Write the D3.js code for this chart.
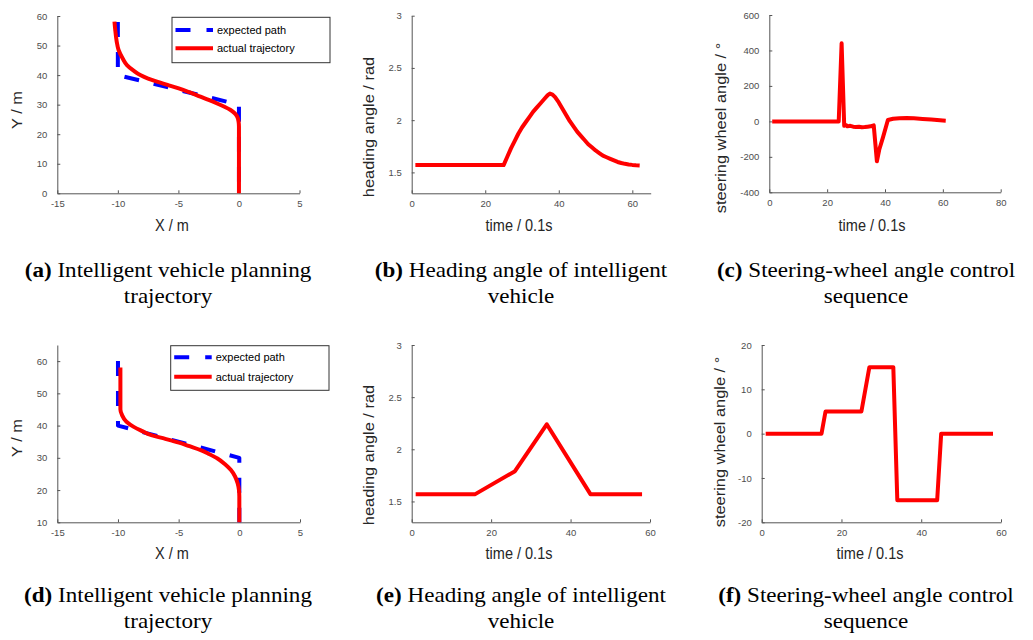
<!DOCTYPE html>
<html>
<head>
<meta charset="utf-8">
<script src="https://cdn.jsdelivr.net/npm/d3@7"></script>
<style>
  body { margin: 0; background: #fff; }
  svg { display: block; }
</style>
</head>
<body>
<div id="chart"></div>
<script>
// ---- data ----
// (a) path / trajectory, scenario 1
var expA_x = [-10, -10, 0, 0];
var expA_y = [58, 40, 30, 0];
var actA_x = [-10.28, -10.22, -10.1, -9.94, -9.6, -9.25, -8.7, -8.15, -7.5, -6.77, -5.9, -4.97, -4.1, -3.18, -2.5, -1.8, -1.2, -0.69, -0.35, -0.14, -0.03, 0, 0];
var actA_y = [58.1, 55.5, 51.5, 48.5, 45.6, 43.4, 41.5, 40, 38.8, 37.8, 36.7, 35.5, 34.2, 32.7, 31.6, 30.4, 29.3, 28.2, 27.1, 25.9, 24.2, 22.6, 0];

// (b) heading angle, scenario 1
var headB_t = [1, 25, 26, 27, 28, 29, 30, 31, 32, 33, 34, 35, 36, 37, 37.6, 38.3, 39, 40, 41, 42, 43, 44, 45, 46, 47, 48, 49, 50, 51, 52, 53, 54, 55, 56, 57, 58, 59, 60, 61, 62];
var headB_v = [1.57, 1.57, 1.65, 1.73, 1.80, 1.87, 1.93, 1.98, 2.03, 2.08, 2.12, 2.16, 2.20, 2.24, 2.255, 2.245, 2.22, 2.17, 2.11, 2.05, 1.99, 1.94, 1.89, 1.85, 1.81, 1.77, 1.74, 1.71, 1.685, 1.66, 1.645, 1.63, 1.615, 1.60, 1.59, 1.582, 1.576, 1.572, 1.569, 1.567];

// (c) steering wheel angle, scenario 1
var steerC_t = [1, 24, 25, 25.9, 26.5, 27, 28, 29, 30, 31, 32, 33, 34, 35, 36.1, 37.2, 38, 39.3, 41, 42.8, 45, 47.5, 50, 53, 56, 59, 61];
var steerC_v = [0, 0, 440, -25, -20, -28, -25, -30, -32, -30, -33, -32, -30, -28, -22, -225, -160, -90, 8, 15, 18, 19, 17, 14, 10, 6, 4];

// (d) path / trajectory, scenario 2
var expD_x = [-10, -10, 0, 0];
var expD_y = [60, 40, 30, 10];
var actD_x = [-9.8, -9.8, -9.67, -9.3, -8.7, -8.0, -7.3, -6.1, -4.97, -4.1, -3.18, -2.5, -1.8, -1.2, -0.69, -0.35, -0.14, -0.03, 0, 0];
var actD_y = [58, 45, 43.3, 41.2, 39.6, 38.3, 37.1, 35.9, 34.7, 33.6, 32.4, 31.2, 29.8, 28.1, 26.2, 24.2, 22.1, 20, 18, 10];

// (e) heading angle, scenario 2
var headE_t = [1, 16, 26, 34, 45, 58];
var headE_v = [1.57, 1.57, 1.79, 2.24, 1.57, 1.57];

// (f) steering wheel angle, scenario 2
var steerF_t = [1, 15, 16, 25, 27, 33, 34, 44, 45, 58];
var steerF_v = [0, 0, 5, 5, 15, 15, -15, -15, 0, 0];

// ticks
var xyTicksX = [-15, -10, -5, 0, 5];
var ticksA_y = [0, 10, 20, 30, 40, 50, 60];
var ticksD_y = [10, 20, 30, 40, 50, 60];
var headTicks = [1.5, 2, 2.5, 3];
var timeTicks60 = [0, 20, 40, 60];
var timeTicks80 = [0, 20, 40, 60, 80];
var steerC_ticks = [-400, -200, 0, 200, 400, 600];
var steerF_ticks = [-20, -10, 0, 10, 20];

var legendNames = ["expected path", "actual trajectory"];

var captions = [
  ["(a)", " Intelligent vehicle planning", "trajectory"],
  ["(b)", " Heading angle of intelligent", "vehicle"],
  ["(c)", " Steering-wheel angle control", "sequence"],
  ["(d)", " Intelligent vehicle planning", "trajectory"],
  ["(e)", " Heading angle of intelligent", "vehicle"],
  ["(f)", " Steering-wheel angle control", "sequence"]
];

var RED = "#ff0000", BLUE = "#0000ff";
var sans = "'Liberation Sans', Arial, sans-serif";
var serif = "'Liberation Serif', 'Times New Roman', serif";
// the source figure was squeezed a little horizontally; axis titles are stretched to match
var VSTRETCH = 1.13;

var svg = d3.select("#chart").append("svg")
  .attr("width", 1033)
  .attr("height", 640);

function zip(a, b) { return a.map(function (d, i) { return [d, b[i]]; }); }

function panel(p) {
  var x = d3.scaleLinear().domain(p.xDomain).range([p.left, p.right]);
  var y = d3.scaleLinear().domain(p.yDomain).range([p.bottom, p.top]);
  var g = svg.append("g");

  var fmt = function (d) { return String(d); };

  var ax = g.append("g")
    .attr("transform", "translate(0," + p.bottom + ")")
    .call(d3.axisBottom(x).tickValues(p.xTicks).tickSize(-3).tickSizeOuter(0).tickPadding(7).tickFormat(fmt));
  var ay = g.append("g")
    .attr("transform", "translate(" + p.left + ",0)")
    .call(d3.axisLeft(y).tickValues(p.yTicks).tickSize(-3).tickSizeOuter(0).tickPadding(10).tickFormat(fmt));

  [ax, ay].forEach(function (a) {
    a.select(".domain").attr("stroke", "#555").attr("stroke-width", 1);
    a.selectAll(".tick line").attr("stroke", "#555");
    a.selectAll(".tick text").attr("fill", "#4d4d4d")
      .style("font-family", sans).style("font-size", "9.5px");
  });

  // lines
  p.lines.forEach(function (l) {
    var line = d3.line()
      .x(function (d) { return x(d[0]); })
      .y(function (d) { return y(d[1]); })
      .curve(l.curve || d3.curveLinear);
    g.append("path")
      .datum(zip(l.xs, l.ys))
      .attr("d", line)
      .attr("fill", "none")
      .attr("stroke", l.color)
      .attr("stroke-width", 4)
      .attr("stroke-linejoin", "round")
      .attr("stroke-dasharray", l.dash || null);
  });

  // axis titles
  g.append("text")
    .attr("transform", "translate(" + p.xTitlePos[0] + "," + p.xTitlePos[1] + ") scale(1," + VSTRETCH + ")")
    .attr("text-anchor", "middle")
    .style("font-family", sans).style("font-size", "14.5px")
    .attr("fill", "#262626")
    .text(p.xTitle);
  g.append("text")
    .attr("transform", "translate(" + p.yTitlePos[0] + "," + p.yTitlePos[1] + ") scale(1," + VSTRETCH + ") rotate(-90)")
    .attr("text-anchor", "middle")
    .style("font-family", sans).style("font-size", "14.5px")
    .attr("fill", "#262626")
    .text(p.yTitle);

  // legend
  if (p.legend) {
    var L = p.legend;
    g.append("rect")
      .attr("x", L.x).attr("y", L.y).attr("width", L.w).attr("height", L.h)
      .attr("fill", "#fff").attr("stroke", "#333").attr("stroke-width", 1);
    [BLUE, RED].forEach(function (c, i) {
      var yy = L.y + L.rows[i];
      g.append("line")
        .attr("x1", L.x + 3.5).attr("x2", L.x + 41).attr("y1", yy).attr("y2", yy)
        .attr("stroke", c).attr("stroke-width", 4)
        .attr("stroke-dasharray", i === 0 ? "15,16" : null);
      g.append("text")
        .attr("x", L.x + 45).attr("y", yy)
        .attr("dy", "0.35em")
        .style("font-family", sans).style("font-size", "11px")
        .attr("fill", "#000")
        .text(legendNames[i]);
    });
  }
}

var DASH = "15,15";

panel({
  left: 57.3, right: 299.5, top: 16, bottom: 193.3,
  xDomain: [-15, 5], yDomain: [0, 60], xTicks: xyTicksX, yTicks: ticksA_y,
  xTitle: "X / m", yTitle: "Y / m", xTitlePos: [172, 230.5], yTitlePos: [22, 110],
  lines: [
    { xs: expA_x, ys: expA_y, color: BLUE, dash: DASH },
    { xs: actA_x, ys: actA_y, color: RED, curve: d3.curveMonotoneY }
  ],
  legend: { x: 172, y: 17.3, w: 158, h: 45.4, rows: [12.7, 31] }
});

panel({
  left: 411.7, right: 650.7, top: 15.7, bottom: 193.3,
  xDomain: [0, 65], yDomain: [1.3, 3], xTicks: timeTicks60, yTicks: headTicks,
  xTitle: "time / 0.1s", yTitle: "heading angle / rad", xTitlePos: [519, 230.5], yTitlePos: [374, 127],
  lines: [{ xs: headB_t, ys: headB_v, color: RED }]
});

panel({
  left: 769.3, right: 1000.7, top: 15, bottom: 192.3,
  xDomain: [0, 80], yDomain: [-400, 600], xTicks: timeTicks80, yTicks: steerC_ticks,
  xTitle: "time / 0.1s", yTitle: "steering wheel angle / °", xTitlePos: [872, 230.5], yTitlePos: [726, 128],
  lines: [{ xs: steerC_t, ys: steerC_v, color: RED }]
});

panel({
  left: 57.3, right: 300, top: 345, bottom: 522.3,
  xDomain: [-15, 5], yDomain: [10, 65], xTicks: xyTicksX, yTicks: ticksD_y,
  xTitle: "X / m", yTitle: "Y / m", xTitlePos: [172, 559], yTitlePos: [22, 438],
  lines: [
    { xs: expD_x, ys: expD_y, color: BLUE, dash: DASH },
    { xs: actD_x, ys: actD_y, color: RED, curve: d3.curveMonotoneY }
  ],
  legend: { x: 170.7, y: 345.7, w: 158.3, h: 44.6, rows: [11.6, 31] }
});

panel({
  left: 411.7, right: 650, top: 345, bottom: 522.3,
  xDomain: [0, 60], yDomain: [1.3, 3], xTicks: timeTicks60, yTicks: headTicks,
  xTitle: "time / 0.1s", yTitle: "heading angle / rad", xTitlePos: [519, 559], yTitlePos: [374, 455],
  lines: [{ xs: headE_t, ys: headE_v, color: RED }]
});

panel({
  left: 761.7, right: 1001, top: 345, bottom: 522.3,
  xDomain: [0, 60], yDomain: [-20, 20], xTicks: timeTicks60, yTicks: steerF_ticks,
  xTitle: "time / 0.1s", yTitle: "steering wheel angle / °", xTitlePos: [870, 559], yTitlePos: [725, 442],
  lines: [{ xs: steerF_t, ys: steerF_v, color: RED }]
});

// sub-figure captions (two lines each)
var capX = [168, 521, 866, 168, 521, 866];
var capY = [277, 277, 277, 602, 602, 602];
captions.forEach(function (c, i) {
  var t1 = svg.append("text")
    .attr("transform", "translate(" + capX[i] + "," + capY[i] + ") scale(1.05,1)")
    .attr("text-anchor", "middle")
    .style("font-family", serif)
    .style("font-size", "22px")
    .attr("fill", "#000");
  t1.append("tspan").attr("font-weight", "bold").text(c[0]);
  t1.append("tspan").text(c[1]);
  svg.append("text")
    .attr("transform", "translate(" + capX[i] + "," + (capY[i] + 25.5) + ") scale(1.05,1)")
    .attr("text-anchor", "middle")
    .style("font-family", serif)
    .style("font-size", "22px")
    .attr("fill", "#000")
    .text(c[2]);
});
</script>
</body>
</html>
